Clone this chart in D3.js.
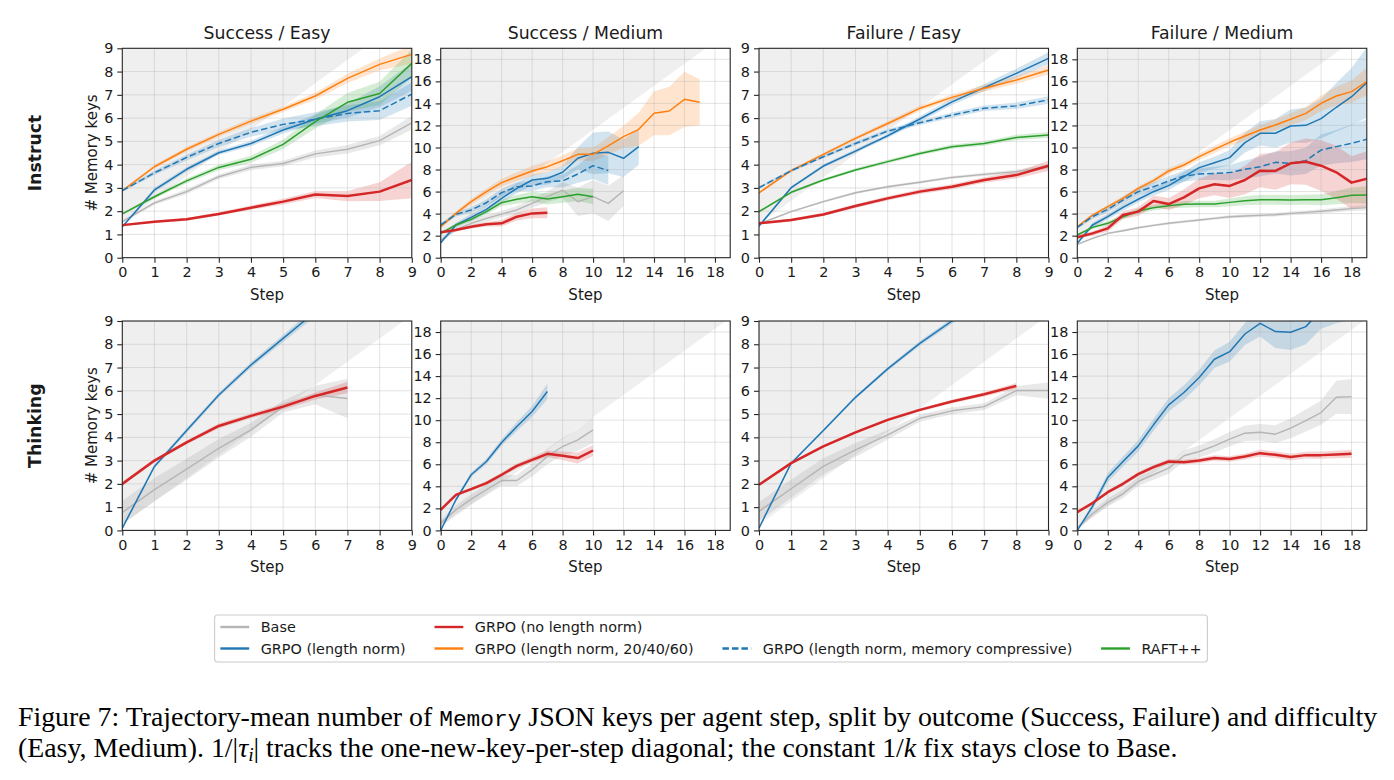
<!DOCTYPE html>
<html>
<head>
<meta charset="utf-8">
<style>
  body { margin: 0; background: #fff; }
</style>
</head>
<body>
<svg id="fig" width="1394" height="780" font-family="'DejaVu Sans', sans-serif" fill="#111"></svg>
<script src="https://cdn.jsdelivr.net/npm/d3@7"></script>
<script>
// ---- data: mean and spread per step (index = step) ----
// Instruct / Success / Easy
const iSE_base = [1.55, 2.36, 2.84, 3.48, 3.88, 4.05, 4.46, 4.66, 5.03, 5.80]
const iSE_base_sd = [0.05, 0.08, 0.1, 0.1, 0.12, 0.12, 0.15, 0.18, 0.2, 0.3]
const iSE_red = [1.40, 1.55, 1.65, 1.88, 2.15, 2.41, 2.72, 2.65, 2.84, 3.34]
const iSE_red_sd = [0.04, 0.05, 0.06, 0.07, 0.09, 0.12, 0.15, 0.22, 0.4, 0.78]
const iSE_blue = [1.33, 2.91, 3.80, 4.51, 4.91, 5.49, 5.95, 6.32, 6.92, 7.78]
const iSE_blue_sd = [0.05, 0.1, 0.1, 0.1, 0.12, 0.15, 0.2, 0.3, 0.45, 0.6]
const iSE_orange = [2.88, 3.91, 4.66, 5.30, 5.87, 6.38, 6.95, 7.71, 8.31, 8.74]
const iSE_orange_sd = [0.05, 0.08, 0.1, 0.1, 0.12, 0.12, 0.15, 0.2, 0.25, 0.4]
const iSE_dashed = [2.88, 3.65, 4.31, 4.91, 5.39, 5.73, 5.95, 6.20, 6.32, 7.03]
const iSE_dashed_sd = [0.05, 0.1, 0.12, 0.15, 0.18, 0.25, 0.3, 0.35, 0.4, 0.5]
const iSE_green = [1.88, 2.62, 3.30, 3.88, 4.23, 4.87, 5.85, 6.68, 7.06, 8.35]
const iSE_green_sd = [0.05, 0.08, 0.1, 0.12, 0.15, 0.2, 0.3, 0.4, 0.5, 0.6]

// Instruct / Success / Medium
const iSM_base = [1.60, 2.57, 3.12, 3.57, 3.96, 4.33, 4.93, 5.54, 6.14, 5.08, 5.54, 4.93, 6.08]
const iSM_base_sd = [0.1, 0.2, 0.25, 0.3, 0.3, 0.35, 0.4, 0.5, 0.7, 1.3, 1.5, 1.6, 1.4]
const iSM_red = [2.30, 2.51, 2.81, 3.03, 3.12, 3.72, 4.02, 4.08]
const iSM_red_sd = [0.1, 0.12, 0.15, 0.2, 0.3, 0.35, 0.45, 0.5]
const iSM_blue = [1.36, 2.97, 3.66, 4.39, 5.39, 6.29, 7.05, 7.20, 7.75, 9.02, 9.47, 9.56, 9.02, 10.08]
const iSM_blue_sd = [0.15, 0.2, 0.3, 0.35, 0.4, 0.45, 0.5, 0.55, 0.6, 1.0, 1.9, 1.9, 1.7, 1.65]
const iSM_orange = [2.81, 4.02, 5.08, 5.99, 6.81, 7.35, 7.87, 8.26, 8.80, 9.38, 9.38, 10.14, 10.98, 11.65, 13.10, 13.31, 14.37, 14.10]
const iSM_orange_sd = [0.15, 0.2, 0.25, 0.3, 0.35, 0.4, 0.45, 0.5, 0.5, 0.55, 0.6, 0.8, 1.0, 1.5, 2.0, 2.2, 2.5, 2.1]
const iSM_dashed = [2.97, 3.93, 4.33, 4.99, 5.90, 6.44, 6.51, 6.90, 6.96, 7.59, 8.35, 7.90]
const iSM_dashed_sd = [0.15, 0.2, 0.25, 0.3, 0.35, 0.4, 0.45, 0.5, 0.6, 0.8, 1.2, 1.3]
const iSM_green = [2.21, 2.97, 3.48, 4.18, 4.99, 5.30, 5.54, 5.33, 5.54, 5.75, 5.54]
const iSM_green_sd = [0.1, 0.15, 0.2, 0.25, 0.3, 0.4, 0.45, 0.5, 0.55, 0.6, 0.7]

// Instruct / Failure / Easy
const iFE_base = [1.45, 1.98, 2.41, 2.79, 3.05, 3.24, 3.45, 3.58, 3.70, 3.91]
const iFE_base_sd = [0.03, 0.04, 0.05, 0.05, 0.05, 0.06, 0.06, 0.07, 0.08, 0.1]
const iFE_red = [1.48, 1.62, 1.86, 2.22, 2.55, 2.84, 3.05, 3.34, 3.55, 3.95]
const iFE_red_sd = [0.05, 0.06, 0.07, 0.08, 0.09, 0.1, 0.11, 0.12, 0.15, 0.22]
const iFE_blue = [1.36, 3.01, 3.94, 4.58, 5.24, 5.96, 6.70, 7.31, 7.92, 8.57]
const iFE_blue_sd = [0.05, 0.06, 0.07, 0.08, 0.1, 0.12, 0.14, 0.16, 0.2, 0.26]
const iFE_orange = [2.79, 3.74, 4.44, 5.13, 5.77, 6.42, 6.89, 7.28, 7.64, 8.07]
const iFE_orange_sd = [0.05, 0.06, 0.07, 0.08, 0.1, 0.11, 0.12, 0.14, 0.16, 0.2]
const iFE_dashed = [3.01, 3.74, 4.34, 4.91, 5.44, 5.80, 6.13, 6.42, 6.53, 6.78]
const iFE_dashed_sd = [0.05, 0.06, 0.07, 0.08, 0.09, 0.1, 0.11, 0.12, 0.14, 0.16]
const iFE_green = [1.98, 2.81, 3.34, 3.77, 4.13, 4.48, 4.77, 4.91, 5.17, 5.27]
const iFE_green_sd = [0.05, 0.05, 0.06, 0.07, 0.08, 0.08, 0.09, 0.1, 0.11, 0.13]

// Instruct / Failure / Medium
const iFM_base = [1.21, 1.75, 2.21, 2.45, 2.72, 2.93, 3.12, 3.27, 3.42, 3.57, 3.72, 3.78, 3.84, 3.90, 4.02, 4.11, 4.21, 4.33, 4.45, 4.54]
const iFM_base_sd = [0.08, 0.08, 0.09, 0.1, 0.1, 0.1, 0.11, 0.12, 0.12, 0.13, 0.14, 0.15, 0.15, 0.16, 0.17, 0.18, 0.19, 0.2, 0.22, 0.25]
const iFM_red = [1.85, 2.21, 2.66, 3.87, 4.18, 5.14, 4.87, 5.48, 6.29, 6.66, 6.51, 7.05, 7.90, 7.87, 8.56, 8.71, 8.35, 7.75, 6.81, 7.17]
const iFM_red_sd = [0.15, 0.2, 0.3, 0.35, 0.4, 0.5, 0.55, 0.7, 0.9, 1.0, 1.1, 1.3, 1.5, 1.7, 1.9, 2.1, 2.3, 2.4, 2.4, 2.5]
const iFM_blue = [1.30, 2.97, 3.72, 4.57, 5.30, 5.99, 6.54, 7.35, 8.17, 8.62, 9.08, 10.44, 11.29, 11.29, 11.95, 12.01, 12.62, 13.65, 14.61, 15.89]
const iFM_blue_sd = [0.15, 0.2, 0.25, 0.3, 0.3, 0.35, 0.4, 0.45, 0.5, 0.55, 0.7, 0.9, 1.1, 1.3, 1.5, 1.6, 1.8, 2.2, 2.6, 3.2]
const iFM_orange = [2.81, 3.87, 4.63, 5.39, 6.29, 6.99, 7.87, 8.41, 9.17, 9.83, 10.47, 11.04, 11.59, 12.04, 12.56, 13.10, 14.01, 14.67, 15.07, 15.98]
const iFM_orange_sd = [0.1, 0.12, 0.15, 0.18, 0.2, 0.22, 0.25, 0.28, 0.3, 0.33, 0.36, 0.4, 0.45, 0.5, 0.55, 0.6, 0.7, 0.85, 1.0, 1.25]
const iFM_dashed = [2.75, 3.72, 4.39, 5.23, 5.99, 6.44, 6.96, 7.41, 7.59, 7.65, 7.72, 8.02, 8.26, 8.65, 8.56, 8.80, 9.77, 10.08, 10.38, 10.74]
const iFM_dashed_sd = [0.15, 0.2, 0.25, 0.3, 0.35, 0.4, 0.45, 0.5, 0.55, 0.6, 0.7, 0.8, 0.9, 1.0, 1.1, 1.2, 1.4, 1.5, 1.7, 1.8]
const iFM_green = [2.06, 2.75, 3.12, 3.72, 4.24, 4.54, 4.72, 4.84, 4.87, 4.87, 5.02, 5.17, 5.26, 5.26, 5.23, 5.26, 5.26, 5.45, 5.66, 5.69]
const iFM_green_sd = [0.1, 0.15, 0.2, 0.2, 0.25, 0.25, 0.25, 0.3, 0.3, 0.3, 0.35, 0.4, 0.45, 0.45, 0.45, 0.45, 0.5, 0.6, 0.7, 0.8]

// Thinking / Success / Easy
const tSE_base = [0.77, 1.75, 2.63, 3.53, 4.32, 5.32, 5.82, 5.67]
const tSE_base_sd = [0.5, 0.5, 0.45, 0.4, 0.3, 0.25, 0.4, 0.85]
const tSE_red = [2.00, 3.00, 3.78, 4.49, 4.92, 5.32, 5.78, 6.14]
const tSE_red_sd = [0.08, 0.08, 0.08, 0.1, 0.1, 0.12, 0.15, 0.25]
const tSE_blue = [0.10, 2.75, 4.29, 5.82, 7.11, 8.25, 9.40, 10.50]
const tSE_blue_sd = [0.05, 0.08, 0.1, 0.1, 0.12, 0.15, 0.2, 0.25]

// Thinking / Success / Medium
const tSM_base = [0.66, 1.87, 2.84, 3.69, 4.53, 4.53, 5.50, 6.71, 7.61, 8.22, 9.12]
const tSM_base_sd = [0.3, 0.4, 0.45, 0.5, 0.5, 0.5, 0.6, 0.7, 0.8, 1.0, 1.2]
const tSM_red = [1.87, 3.23, 3.75, 4.29, 5.05, 5.86, 6.40, 6.95, 6.77, 6.56, 7.25]
const tSM_red_sd = [0.1, 0.12, 0.15, 0.18, 0.2, 0.22, 0.25, 0.3, 0.4, 0.5, 0.5]
const tSM_blue = [0.00, 2.78, 5.05, 6.25, 7.98, 9.43, 10.79, 12.60]
const tSM_blue_sd = [0.05, 0.15, 0.2, 0.25, 0.3, 0.4, 0.5, 0.7]

// Thinking / Failure / Easy
const tFE_base = [0.82, 1.79, 2.75, 3.46, 4.11, 4.82, 5.14, 5.32, 6.01, 6.01]
const tFE_base_sd = [0.4, 0.4, 0.35, 0.3, 0.2, 0.15, 0.15, 0.15, 0.2, 0.35]
const tFE_red = [1.96, 2.89, 3.61, 4.21, 4.75, 5.18, 5.54, 5.85, 6.21]
const tFE_red_sd = [0.05, 0.05, 0.05, 0.06, 0.06, 0.07, 0.08, 0.09, 0.12]
const tFE_blue = [0.10, 2.89, 4.29, 5.72, 6.94, 8.04, 9.00, 9.90, 10.70]
const tFE_blue_sd = [0.03, 0.05, 0.06, 0.07, 0.08, 0.1, 0.12, 0.14, 0.16]

// Thinking / Failure / Medium
const tFM_base = [0.21, 1.51, 2.54, 3.32, 4.44, 5.05, 5.65, 6.77, 7.16, 7.67, 8.28, 8.82, 8.91, 8.73, 9.27, 9.97, 10.69, 12.08, 12.14]
const tFM_base_sd = [0.2, 0.3, 0.35, 0.4, 0.4, 0.45, 0.5, 0.5, 0.55, 0.6, 0.65, 0.7, 0.75, 0.8, 0.9, 1.0, 1.1, 1.5, 1.6]
const tFM_red = [1.66, 2.48, 3.47, 4.23, 5.11, 5.74, 6.25, 6.19, 6.34, 6.56, 6.47, 6.71, 7.01, 6.86, 6.65, 6.83, 6.83, 6.89, 6.95]
const tFM_red_sd = [0.1, 0.12, 0.15, 0.18, 0.2, 0.2, 0.22, 0.22, 0.24, 0.25, 0.25, 0.27, 0.3, 0.3, 0.3, 0.3, 0.32, 0.34, 0.36]
const tFM_blue = [0.00, 2.18, 4.80, 6.25, 7.67, 9.58, 11.39, 12.51, 13.87, 15.53, 16.22, 17.82, 18.79, 18.04, 17.98, 18.49, 20.0, 20.6, 21.0]
const tFM_blue_sd = [0.05, 0.3, 0.4, 0.45, 0.5, 0.55, 0.6, 0.65, 0.7, 0.8, 0.9, 1.0, 1.2, 1.5, 1.6, 1.6, 1.7, 1.8, 1.9]

const rowNames = ['Instruct', 'Thinking']
const titles = ['Success / Easy', 'Success / Medium', 'Failure / Easy', 'Failure / Medium']
const axisMax = [9, 19, 9, 19]
// offset of the one-new-key-per-step diagonal, per row and column
const diagOffset = [[1.5, 1.6, 1.45, 1.6], [0.25, 0.3, 0.25, 0.2]]

const seriesStyle = {
  base:   { label: 'Base', color: '#b5b5b5', band: '#9a9a9a', lw: 1.4 },
  blue:   { label: 'GRPO (length norm)', color: '#1f77b4', lw: 1.5 },
  red:    { label: 'GRPO (no length norm)', color: '#d62728', lw: 2.5 },
  orange: { label: 'GRPO (length norm, 20/40/60)', color: '#ff7f0e', lw: 1.5 },
  dashed: { label: 'GRPO (length norm, memory compressive)', color: '#1f77b4', lw: 1.5, dash: '6.5,3' },
  green:  { label: 'RAFT++', color: '#2ca02c', lw: 1.5 },
}
const drawOrder = ['base', 'blue', 'orange', 'dashed', 'green', 'red']
// legend columns; short columns sit on the bottom row
const legendColumns = [['base', 'blue'], ['red', 'orange'], ['dashed'], ['green']]

const panelSeries = [
  [
    { base: [iSE_base, iSE_base_sd], red: [iSE_red, iSE_red_sd], blue: [iSE_blue, iSE_blue_sd], orange: [iSE_orange, iSE_orange_sd], dashed: [iSE_dashed, iSE_dashed_sd], green: [iSE_green, iSE_green_sd] },
    { base: [iSM_base, iSM_base_sd], red: [iSM_red, iSM_red_sd], blue: [iSM_blue, iSM_blue_sd], orange: [iSM_orange, iSM_orange_sd], dashed: [iSM_dashed, iSM_dashed_sd], green: [iSM_green, iSM_green_sd] },
    { base: [iFE_base, iFE_base_sd], red: [iFE_red, iFE_red_sd], blue: [iFE_blue, iFE_blue_sd], orange: [iFE_orange, iFE_orange_sd], dashed: [iFE_dashed, iFE_dashed_sd], green: [iFE_green, iFE_green_sd] },
    { base: [iFM_base, iFM_base_sd], red: [iFM_red, iFM_red_sd], blue: [iFM_blue, iFM_blue_sd], orange: [iFM_orange, iFM_orange_sd], dashed: [iFM_dashed, iFM_dashed_sd], green: [iFM_green, iFM_green_sd] },
  ],
  [
    { base: [tSE_base, tSE_base_sd], red: [tSE_red, tSE_red_sd], blue: [tSE_blue, tSE_blue_sd] },
    { base: [tSM_base, tSM_base_sd], red: [tSM_red, tSM_red_sd], blue: [tSM_blue, tSM_blue_sd] },
    { base: [tFE_base, tFE_base_sd], red: [tFE_red, tFE_red_sd], blue: [tFE_blue, tFE_blue_sd] },
    { base: [tFM_base, tFM_base_sd], red: [tFM_red, tFM_red_sd], blue: [tFM_blue, tFM_blue_sd] },
  ],
]

// ---- layout ----
const colLeft = [122.3, 440.7, 759, 1077.3]
const rowTop = [48.3, 321]
const pw = 289.5, ph = 209.4
const fs = 14.4
const ink = '#1a1a1a'

const svg = d3.select('#fig')
const defs = svg.append('defs')

rowNames.forEach((rowName, r) => {
  svg.append('text')
    .attr('transform', `translate(35, ${rowTop[r] + ph / 2}) rotate(-90)`)
    .attr('text-anchor', 'middle')
    .attr('dominant-baseline', 'central')
    .attr('font-size', 17.3)
    .attr('font-weight', 'bold')
    .attr('fill', ink)
    .text(rowName)

  panelSeries[r].forEach((series, c) => {
    const m = axisMax[c]
    const x = d3.scaleLinear().domain([0, m]).range([0, pw])
    const y = d3.scaleLinear().domain([0, m]).range([ph, 0])
    const ticks = m === 9 ? d3.range(0, 10, 1) : d3.range(0, 19, 2)

    const g = svg.append('g').attr('transform', `translate(${colLeft[c]}, ${rowTop[r]})`)
    const clipId = `clip-${r}-${c}`
    defs.append('clipPath').attr('id', clipId)
      .append('rect').attr('width', pw).attr('height', ph)

    const plot = g.append('g').attr('clip-path', `url(#${clipId})`)

    // shaded region above the one-key-per-step diagonal
    const off = diagOffset[r][c]
    plot.append('path')
      .datum([0, m])
      .attr('fill', '#efefef')
      .attr('d', d3.area().x(d => x(d)).y0(d => y(d + off)).y1(y(m)))

    // bands
    drawOrder.forEach(k => {
      if (!series[k]) return
      const [mean, sd] = series[k]
      const st = seriesStyle[k]
      plot.append('path')
        .datum(mean.map((v, i) => [i, v, sd[i]]))
        .attr('fill', st.band || st.color)
        .attr('fill-opacity', k === 'base' ? 0.22 : 0.2)
        .attr('d', d3.area().x(d => x(d[0])).y0(d => y(d[1] - d[2])).y1(d => y(d[1] + d[2])))
    })

    // grid
    plot.append('g').selectAll('line').data(ticks).join('line')
      .attr('x1', d => x(d)).attr('x2', d => x(d)).attr('y1', 0).attr('y2', ph)
      .attr('stroke', '#b0b0b0').attr('stroke-opacity', 0.35).attr('stroke-width', 1)
    plot.append('g').selectAll('line').data(ticks).join('line')
      .attr('y1', d => y(d)).attr('y2', d => y(d)).attr('x1', 0).attr('x2', pw)
      .attr('stroke', '#b0b0b0').attr('stroke-opacity', 0.35).attr('stroke-width', 1)

    // lines
    drawOrder.forEach(k => {
      if (!series[k]) return
      const [mean] = series[k]
      const st = seriesStyle[k]
      plot.append('path')
        .datum(mean)
        .attr('fill', 'none')
        .attr('stroke', st.color)
        .attr('stroke-width', st.lw)
        .attr('stroke-dasharray', st.dash || null)
        .attr('stroke-linejoin', 'round')
        .attr('d', d3.line().x((d, i) => x(i)).y(d => y(d)))
    })

    // axes
    const xAxis = g.append('g').attr('transform', `translate(0, ${ph})`)
      .call(d3.axisBottom(x).tickValues(ticks).tickSize(5).tickPadding(4))
    const yAxis = g.append('g')
      .call(d3.axisLeft(y).tickValues(ticks).tickSize(5).tickPadding(4))
    ;[xAxis, yAxis].forEach(a => {
      a.select('.domain').remove()
      a.selectAll('line').attr('stroke', '#262626').attr('stroke-width', 1.1)
      a.selectAll('text').attr('font-size', fs).attr('font-family', 'DejaVu Sans').attr('fill', ink)
    })
    g.append('rect').attr('width', pw).attr('height', ph)
      .attr('fill', 'none').attr('stroke', '#262626').attr('stroke-width', 1.1)

    g.append('text')
      .attr('x', pw / 2).attr('y', ph + 42)
      .attr('text-anchor', 'middle').attr('font-size', 15).attr('fill', ink)
      .text('Step')
    if (r === 0) {
      g.append('text')
        .attr('x', pw / 2).attr('y', -9)
        .attr('text-anchor', 'middle').attr('font-size', 17.3).attr('fill', ink)
        .text(titles[c])
    }
    if (c === 0) {
      g.append('text')
        .attr('transform', `translate(-30, ${ph / 2}) rotate(-90)`)
        .attr('text-anchor', 'middle').attr('dominant-baseline', 'central')
        .attr('font-size', 15).attr('fill', ink)
        .text('# Memory keys')
    }
  })
})

// ---- legend ----
const measure = svg.append('text').attr('font-size', fs).attr('visibility', 'hidden')
const textW = s => { measure.text(s); return measure.node().getComputedTextLength() }
const pad = 0.4 * fs, handleLen = 2 * fs, textPad = 0.8 * fs, colGap = 2 * fs
const colW = legendColumns.map(col => handleLen + textPad + d3.max(col, k => textW(seriesStyle[k].label)))
measure.remove()
const boxW = 2 * pad + d3.sum(colW) + colGap * (legendColumns.length - 1)
const boxLeft = 711 - boxW / 2, boxTop = 615, boxH = 47
const rowY = [627, 648.5]

const legend = svg.append('g')
legend.append('rect')
  .attr('x', boxLeft).attr('y', boxTop).attr('width', boxW).attr('height', boxH)
  .attr('rx', 3).attr('fill', '#fff').attr('stroke', '#cccccc').attr('stroke-width', 1.1)

let cx = boxLeft + pad
legendColumns.forEach((col, ci) => {
  col.forEach((k, ri) => {
    const st = seriesStyle[k]
    const ly = rowY[ri + rowY.length - col.length]
    legend.append('line')
      .attr('x1', cx).attr('x2', cx + handleLen).attr('y1', ly).attr('y2', ly)
      .attr('stroke', st.color).attr('stroke-width', 2.4)
      .attr('stroke-dasharray', st.dash || null)
    legend.append('text')
      .attr('x', cx + handleLen + textPad).attr('y', ly)
      .attr('dominant-baseline', 'central').attr('font-size', fs).attr('fill', ink)
      .text(st.label)
  })
  cx += colW[ci] + colGap
})

// ---- caption ----
const serif = "'Liberation Serif', 'DejaVu Serif', serif"
const mono = "'Liberation Mono', 'DejaVu Sans Mono', monospace"
const cap1 = svg.append('text').attr('x', 18).attr('y', 726)
  .attr('font-family', serif).attr('font-size', 22).attr('fill', '#000')
cap1.append('tspan').text('Figure 7: Trajectory-mean number of ')
cap1.append('tspan').attr('font-family', mono).attr('font-size', '0.82em').text('Memory')
cap1.append('tspan').text(' JSON keys per agent step, split by outcome (Success, Failure) and difficulty')

const cap2 = svg.append('text').attr('x', 18).attr('y', 757)
  .attr('font-family', serif).attr('font-size', 22).attr('fill', '#000')
cap2.append('tspan').text('(Easy, Medium). 1/|')
cap2.append('tspan').attr('font-style', 'italic').text('τ')
cap2.append('tspan').attr('font-style', 'italic').attr('font-size', '0.7em').attr('dy', 4).text('i')
cap2.append('tspan').attr('dy', -4).text('| tracks the one-new-key-per-step diagonal; the constant 1/')
cap2.append('tspan').attr('font-style', 'italic').text('k')
cap2.append('tspan').text(' fix stays close to Base.')

// fit the first caption line to the figure width
const w1 = cap1.node().getComputedTextLength()
const capSize = 22 * 1360 / w1
cap1.attr('font-size', capSize)
cap2.attr('font-size', capSize)
</script>
</body>
</html>
